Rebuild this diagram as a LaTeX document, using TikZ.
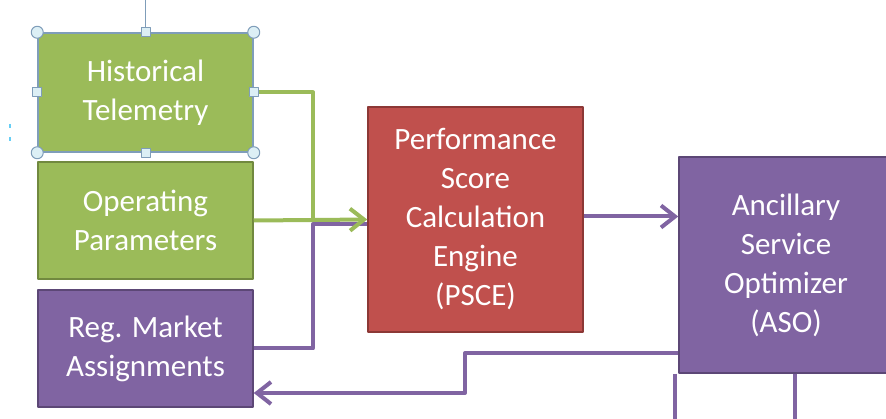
\documentclass[tikz,border=0pt]{standalone}
\usepackage{fontspec}
\setmainfont{Carlito}
\usetikzlibrary{arrows.meta,positioning}
\definecolor{grn}{HTML}{9BBB59}
\definecolor{grndark}{HTML}{71893F}
\definecolor{ppl}{HTML}{8064A2}
\definecolor{ppldark}{HTML}{5C4776}
\definecolor{rd}{HTML}{C0504D}
\definecolor{rddark}{HTML}{8C3836}
\definecolor{handle}{HTML}{DCEFF5}
\definecolor{handledraw}{HTML}{7F9DB9}
\begin{document}
\begin{tikzpicture}[x=1pt,y=-1pt,node distance=128pt,>={Straight Barb[length=14pt,width=22pt]},line join=round]
\tikzstyle{box}=[rectangle,draw,line width=1.5pt,text=white,align=center,font=\fontsize{31}{39}\selectfont,minimum width=215pt,minimum height=117pt,inner sep=0pt]
\tikzstyle{gline}=[draw=grn,line width=4pt]
\tikzstyle{pline}=[draw=ppl,line width=4pt]
\tikzstyle{knob}=[circle,draw=handledraw,fill=handle,line width=1pt,minimum size=12pt,inner sep=0pt]
\tikzstyle{tab}=[rectangle,draw=handledraw,fill=handle,line width=1pt,minimum size=9pt,inner sep=0pt]

\clip (0,0) rectangle (886,419);

\node[box,fill=grn,draw=handledraw,minimum height=119pt] (hist) at (145.5,92.5) {Historical\\Telemetry};
\node[box,fill=grn,draw=grndark,below of=hist] (oper) {Operating\\Parameters};
\node[box,fill=ppl,draw=ppldark,below of=oper] (reg) {Reg. Market\\Assignments};
\node[box,fill=rd,draw=rddark,minimum height=225pt] (psce) at (475.5,219.5) {Performance\\Score\\Calculation\\Engine\\(PSCE)};
\node[box,fill=ppl,draw=ppldark,minimum width=214pt,minimum height=216pt] (aso) at (786,265) {Ancillary\\Service\\Optimizer\\(ASO)};

\coordinate (gbus) at (313,220);
\coordinate (pbus) at (313,224);
\coordinate (back) at (465,393);
\coordinate (outa) at (675,425);
\coordinate (outb) at (795,425);

% inputs into the PSCE
\draw[pline] (reg.east) -| (pbus) -- (psce.west |- pbus);
\draw[gline] (hist.east) -| (gbus);
\draw[gline,->] (oper.east) -- (gbus) -- (psce.west);

% PSCE to ASO and back to the market
\draw[pline,->] ([yshift=3pt]psce.east) -- ([yshift=3pt]psce.east -| aso.west);
\draw[pline,->] ([yshift=-88pt]aso.west) -| (back) -- (back -| reg.east);
\draw[pline] (outa |- aso.south) -- (outa);
\draw[pline] (outb |- aso.south) -- (outb);

% selection handles
\draw[handledraw,line width=1pt] (hist.north) -- (145.5,0);
\foreach \a in {north west,north east,south west,south east}
  \node[knob] at (hist.\a) {};
\foreach \a in {north,south,east,west}
  \node[tab] at (hist.\a) {};
\draw[cyan!60,line width=1.2pt] (10,124) -- (10,128) (10,137) -- (10,141);
\end{tikzpicture}
\end{document}
